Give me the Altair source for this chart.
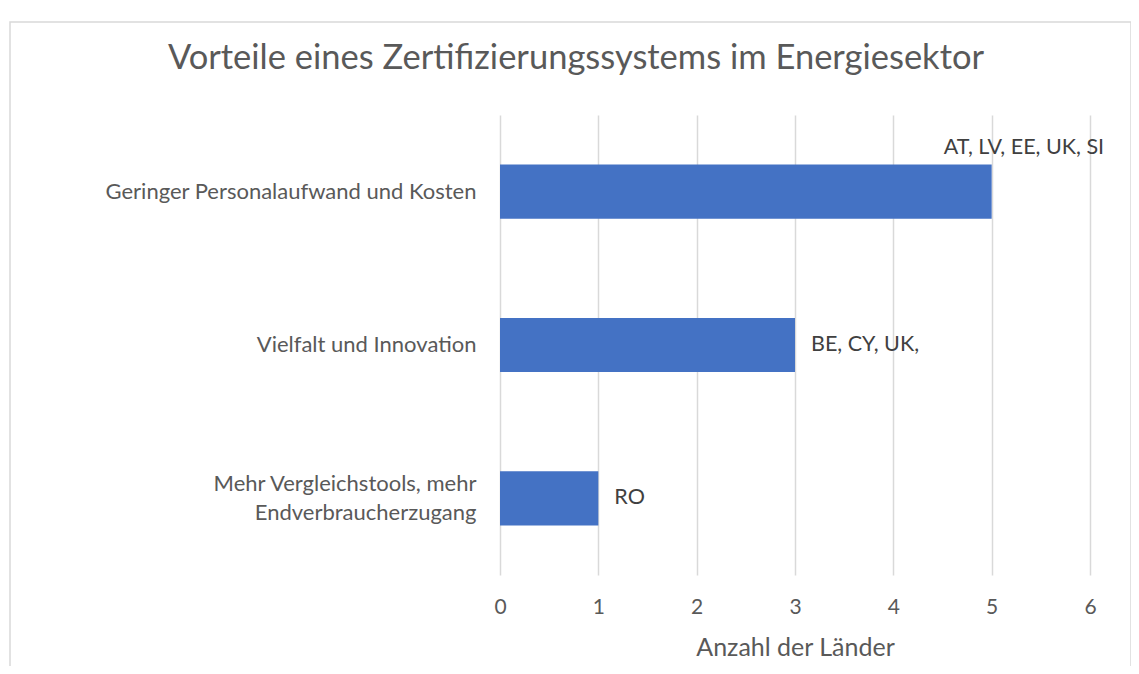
import altair as alt
import pandas as pd

categories = ["Geringer Personalaufwand und Kosten", "Vielfalt und Innovation",
              "Mehr Vergleichstools, mehr|Endverbraucherzugang"]
values = [5, 3, 1]
labels = ["AT, LV, EE, UK, SI", "BE, CY, UK,", "RO"]

df = pd.DataFrame({"cat": categories, "val": values, "lab": labels})

FONT = "Lato"
GREY = "#595959"

yenc = alt.Y("cat:N", sort=categories, title=None,
             scale=alt.Scale(paddingInner=0.647, paddingOuter=0.3235),
             axis=alt.Axis(labelExpr="split(datum.label, '|')", labelFontSize=22,
                           labelColor=GREY, labelFont=FONT, labelPadding=24,
                           labelAlign="right", labelLineHeight=29,
                           labelOffset={"condition": {"test": "indexof(datum.value, '|') >= 0",
                                                      "value": -14}, "value": 0},
                           ticks=False, domain=False, grid=False, labelLimit=500))
xenc = alt.X("val:Q", title="Anzahl der Länder",
             scale=alt.Scale(domain=[0, 6], nice=False),
             axis=alt.Axis(values=[0, 1, 2, 3, 4, 5, 6], format="d", labelFontSize=21,
                           labelColor=GREY, labelFont=FONT, labelPadding=21,
                           labelFlush=False,
                           titleFontSize=25, titleColor=GREY, titleFont=FONT,
                           titleFontWeight="normal", titlePadding=18,
                           ticks=False, domain=False, gridColor="#d9d9d9",
                           gridWidth=1.5))

frame = alt.Chart(pd.DataFrame({"a": [0]})).mark_rect(
    fill=None, stroke="#d9d9d9", strokeWidth=1.5).encode(
    x=alt.value(-490), x2=alt.value(631), y=alt.value(-93), y2=alt.value(700))

bars = alt.Chart(df).mark_bar(color="#4472C4").encode(x=xenc, y=yenc)

text_main = alt.Chart(df).transform_filter("datum.val < 5").mark_text(
    align="left", baseline="middle", dx=16, fontSize=21.5, font=FONT, color="#404040"
).encode(x="val:Q", y=alt.Y("cat:N", sort=categories), text="lab:N")

text_top = alt.Chart(df).transform_filter("datum.val >= 5").mark_text(
    align="left", baseline="middle", dx=-48, dy=-44, fontSize=21.5, font=FONT,
    color="#404040"
).encode(x="val:Q", y=alt.Y("cat:N", sort=categories), text="lab:N")

chart = alt.layer(frame, bars, text_main, text_top).properties(
    width=590, height=460,
    autosize=alt.AutoSizeParams(type="none"),
    padding={"left": 492, "top": 107, "right": 41, "bottom": 91},
    title=alt.TitleParams("Vorteile eines Zertifizierungssystems im Energiesektor",
                          font=FONT, fontSize=34.5, fontWeight="normal", color=GREY,
                          anchor="middle", frame="group", dx=-219, offset=-55),
).configure_view(stroke=None)

chart.save("out.html", embed_options={"renderer": "svg", "actions": False})
